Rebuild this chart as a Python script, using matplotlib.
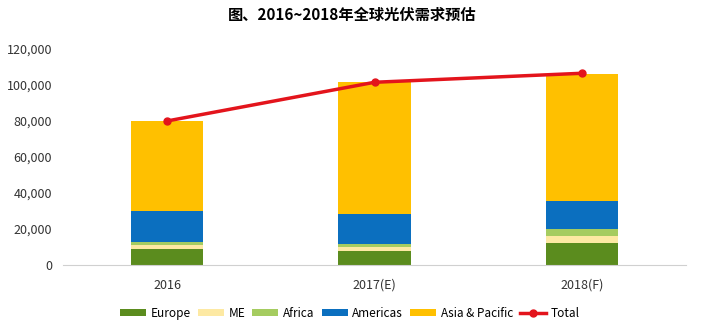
import numpy as np
import matplotlib.pyplot as plt
from matplotlib.ticker import FuncFormatter

plt.rcParams['font.family'] = ['Noto Sans CJK SC', 'DejaVu Sans']

years = ['2016', '2017(E)', '2018(F)']
europe = [9000, 7800, 12200]
me = [2200, 2200, 3900]
africa = [1400, 1500, 3900]
americas = [17400, 16800, 15500]
asia = [50000, 73200, 70500]
total = [80000, 101500, 106500]

series = [('Europe', europe, '#5b8c1e'),
          ('ME', me, '#fde9a3'),
          ('Africa', africa, '#a5cc60'),
          ('Americas', americas, '#0b6fbf'),
          ('Asia & Pacific', asia, '#ffc000')]

fig = plt.figure(figsize=(7.04, 3.33), dpi=100)
ax = fig.add_axes([0.09, 0.204, 0.884, 0.649])

x = np.arange(len(years))
bottom = np.zeros(len(years))
for name, vals, col in series:
    ax.bar(x, vals, 0.35, bottom=bottom, color=col, label=name)
    bottom += np.array(vals)

ax.plot(x, total, color='#e3141c', lw=2.5, marker='o', markersize=5, label='Total')

ax.set_xlim(-0.5, 2.5)
ax.set_ylim(0, 120000)
ax.set_yticks(np.arange(0, 120001, 20000))
ax.yaxis.set_major_formatter(FuncFormatter(lambda v, p: f'{int(v):,}'))
ax.set_xticks(x)
ax.set_xticklabels(years)
ax.tick_params(axis='both', length=0, labelsize=9, colors='#333333')
ax.tick_params(axis='x', pad=10)
ax.tick_params(axis='y', pad=8)
for s in ['top', 'right', 'left']:
    ax.spines[s].set_visible(False)
ax.spines['bottom'].set_color('#d0d0d0')

fig.text(0.5, 0.955, '图、2016~2018年全球光伏需求预估', ha='center', va='center',
         fontsize=11, fontweight='bold')

h, l = ax.get_legend_handles_labels()
h = h[1:] + h[:1]
l = l[1:] + l[:1]
fig.legend(h, l, loc='center', bbox_to_anchor=(0.497, 0.06), ncol=6, frameon=False,
           fontsize=8.5, handlelength=2.2, handleheight=0.6, columnspacing=0.6,
           handletextpad=0.4)

fig.savefig('out.png', dpi=100)
